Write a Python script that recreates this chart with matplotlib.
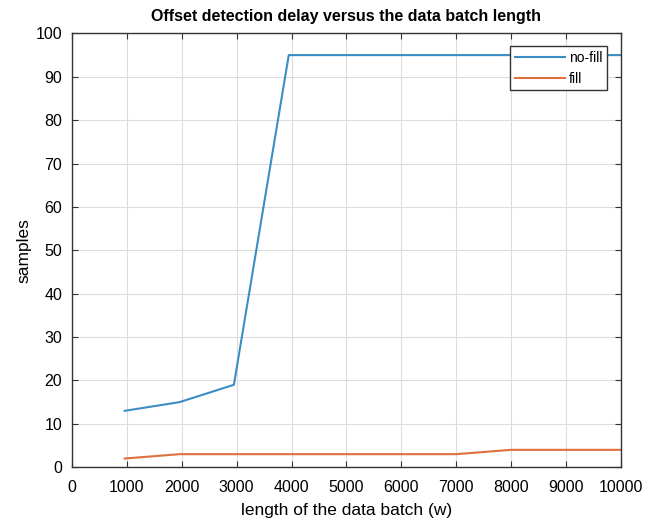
import numpy as np
import matplotlib
matplotlib.use('Agg')
import matplotlib.pyplot as plt

plt.rcParams['font.family'] = ['Liberation Sans', 'DejaVu Sans']

# batch length (w) and detection delay in samples
w = [960, 1960, 2950, 3950, 5000, 6000, 7000, 8000, 9000, 10000]
no_fill = [13, 15, 19, 95, 95, 95, 95, 95, 95, 95]
fill = [2, 3, 3, 3, 3, 3, 3, 4, 4, 4]

fig = plt.figure(figsize=(6.61, 5.22), dpi=100)
ax = fig.add_axes([0.109, 0.105, 0.830, 0.831])

ax.plot(w, no_fill, color='#3b8dc4', lw=1.5, label='no-fill')
ax.plot(w, fill, color='#e0703e', lw=1.5, label='fill')

ax.set_xlim(0, 10000)
ax.set_ylim(0, 100)
ax.set_xticks(np.arange(0, 10001, 1000))
ax.set_yticks(np.arange(0, 101, 10))
ax.grid(True, color='#dcdcdc', lw=0.8)
ax.tick_params(direction='in', top=True, right=True, length=4, labelsize=11.5, color='#333333')
ax.tick_params(axis='x', pad=9)
ax.tick_params(axis='y', pad=7)
for s in ax.spines.values():
    s.set_color('#333333')
    s.set_linewidth(1.0)

ax.set_title('Offset detection delay versus the data batch length', fontsize=11.5, fontweight='bold', pad=9)
ax.set_xlabel('length of the data batch (w)', fontsize=12.5, labelpad=6)
ax.set_ylabel('samples', fontsize=12.5, labelpad=3)

leg = ax.legend(loc='upper right', bbox_to_anchor=(0.988, 0.986), fontsize=10, fancybox=False,
                framealpha=1, edgecolor='#333333', handlelength=3.6, borderpad=0.35, labelspacing=0.45,
                handletextpad=0.3)
leg.get_frame().set_linewidth(1.0)

fig.savefig('out.png', dpi=100)
